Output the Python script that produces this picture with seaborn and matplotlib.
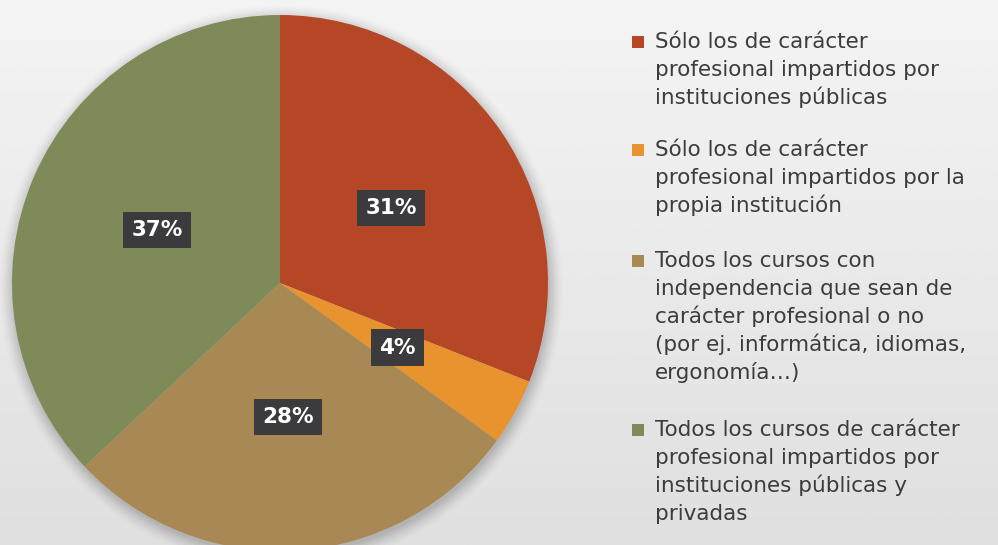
import numpy as np
import matplotlib.pyplot as plt
import seaborn as sns
from matplotlib.patches import Rectangle, Circle

# data
categories = [
    "Sólo los de carácter\nprofesional impartidos por\ninstituciones públicas",
    "Sólo los de carácter\nprofesional impartidos por la\npropia institución",
    "Todos los cursos con\nindependencia que sean de\ncarácter profesional o no\n(por ej. informática, idiomas,\nergonomía…)",
    "Todos los cursos de carácter\nprofesional impartidos por\ninstituciones públicas y\nprivadas",
]
shares = [31, 4, 28, 37]
colors = ["#B54727", "#E8932D", "#A88954", "#7E8B58"]

sns.set_theme(style="white")
plt.rcParams['font.family'] = ['DejaVu Sans']

W, H = 998, 545
fig = plt.figure(figsize=(W / 100, H / 100), dpi=100)

# soft grey slide background
bg = fig.add_axes([0, 0, 1, 1])
grad = np.linspace(0.955, 0.875, 200)[:, None] * np.ones((1, 2))
bg.imshow(grad, cmap="gray", vmin=0, vmax=1, aspect="auto", extent=[0, 1, 0, 1])
bg.set_axis_off()

# pie axes: centre at (280, 283) px, radius ~268 px
cx, cy, r = 280, 283, 268
ax = fig.add_axes([(cx - r) / W, (H - cy - r) / H, 2 * r / W, 2 * r / H])
ax.set_axis_off()

# faint shadow around the pie
for k, a in zip(np.linspace(1.05, 1.0, 8), np.linspace(0.012, 0.04, 8)):
    ax.add_patch(Circle((0.005, -0.015), k, color="black", alpha=a, lw=0,
                        zorder=0, clip_on=False))

wedges, texts, autotexts = ax.pie(
    shares,
    colors=sns.color_palette(colors),
    startangle=90,
    counterclock=False,
    autopct=lambda p: f"{p:.0f}%",
    pctdistance=0.5,
    wedgeprops=dict(linewidth=0),
    textprops=dict(color="white", fontsize=15.5, fontweight="bold"),
)
for t in autotexts:
    t.set_bbox(dict(boxstyle="square,pad=0.38", fc="#3b3b3d", ec="none"))
ax.set_xlim(-1, 1)
ax.set_ylim(-1, 1)

# legend drawn by hand so the marker sits on the first line
entry_top = [42, 150, 261, 430]
line_h = 28
for label, col, y0 in zip(categories, colors, entry_top):
    fig.patches.append(Rectangle((632 / W, 1 - (y0 + 6) / H), 12 / W, 12 / H,
                                 transform=fig.transFigure, fc=col, ec="none"))
    for i, line in enumerate(label.split("\n")):
        fig.text(655 / W, 1 - (y0 + 6 + i * line_h) / H, line,
                 fontsize=15.5, color="#3c3c3c", va="baseline", ha="left")

fig.savefig("out.png", dpi=100)
